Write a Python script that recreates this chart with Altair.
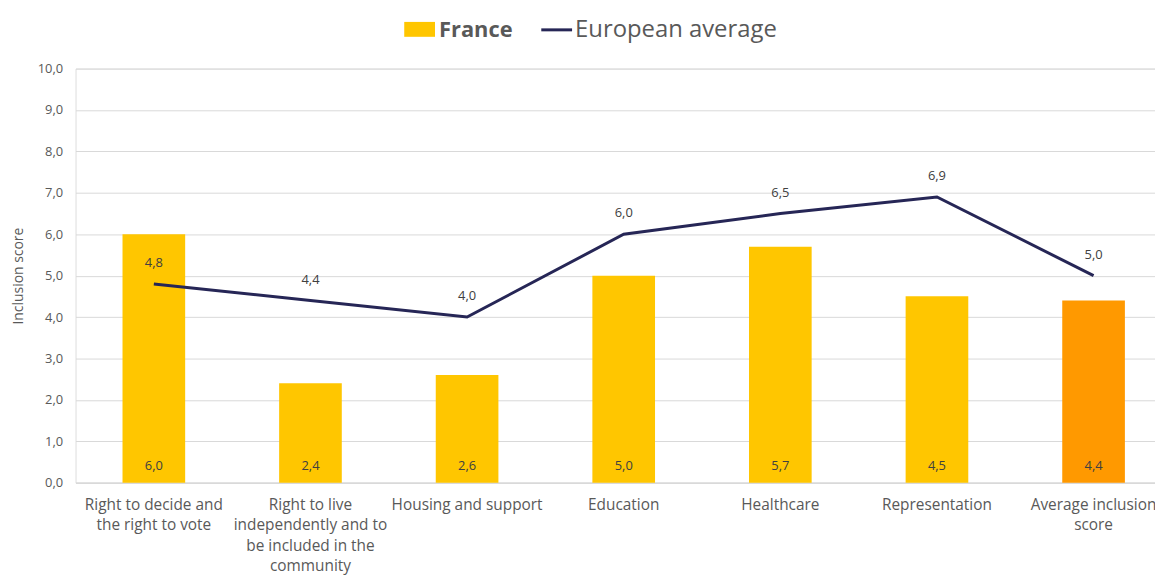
import altair as alt
import pandas as pd

categories = [
    "Right to decide and\nthe right to vote",
    "Right to live\nindependently and to\nbe included in the\ncommunity",
    "Housing and support",
    "Education",
    "Healthcare",
    "Representation",
    "Average inclusion\nscore",
]
france = [6.0, 2.4, 2.6, 5.0, 5.7, 4.5, 4.4]
european_average = [4.8, 4.4, 4.0, 6.0, 6.5, 6.9, 5.0]
bar_kind = ["domain", "domain", "domain", "domain", "domain", "domain", "average"]

df = pd.DataFrame({
    "category": categories,
    "france": france,
    "europe": european_average,
    "kind": bar_kind,
})

FONT = "Open Sans"
GRAY = "#595959"
ORDER = categories

x_scale = alt.Scale(paddingInner=0.6, paddingOuter=0.3, range=[0, 1104])

x_enc = alt.X(
    "category:N",
    sort=ORDER,
    scale=x_scale,
    axis=alt.Axis(
        title=None,
        labelAngle=0,
        labelExpr="split(datum.label, '\\n')",
        labelFont=FONT,
        labelFontSize=15.5,
        labelColor=GRAY,
        labelLineHeight=20.5,
        labelPadding=15,
        labelBaseline="top",
        ticks=False,
        domainColor="#D9D9D9",
        domainWidth=1.5,
        labelLimit=300,
    ),
)

y_scale = alt.Scale(domain=[0, 10], nice=False)

bars = alt.Chart(df).mark_bar().encode(
    x=x_enc,
    y=alt.Y(
        "france:Q",
        scale=y_scale,
        axis=alt.Axis(
            title="Inclusion score",
            titleFont=FONT,
            titleFontSize=14,
            titleFontWeight="normal",
            titleColor=GRAY,
            titlePadding=12,
            values=[0, 1, 2, 3, 4, 5, 6, 7, 8, 9, 10],
            labelExpr="replace(format(datum.value, '.1f'), '.', ',')",
            labelFont=FONT,
            labelFontSize=13,
            labelColor=GRAY,
            labelPadding=13,
            ticks=False,
            domain=False,
            gridColor="#D9D9D9",
            gridWidth=1,
        ),
    ),
    color=alt.Color(
        "kind:N",
        scale=alt.Scale(domain=["domain", "average"], range=["#FFC600", "#FF9900"]),
        legend=None,
    ),
)

bar_labels = alt.Chart(df).transform_calculate(
    lab="replace(format(datum.france, '.1f'), '.', ',')"
).mark_text(font=FONT, fontSize=13, color="#404040", baseline="middle").encode(
    x=alt.X("category:N", sort=ORDER, scale=x_scale),
    y=alt.value(400),
    text="lab:N",
)

line = alt.Chart(df).mark_line(color="#262656", strokeWidth=3).encode(
    x=alt.X("category:N", sort=ORDER, scale=x_scale),
    y=alt.Y("europe:Q", scale=y_scale),
)

line_labels = alt.Chart(df).transform_calculate(
    lab="replace(format(datum.europe, '.1f'), '.', ',')"
).mark_text(font=FONT, fontSize=13, color="#404040", baseline="middle", dy=-21).encode(
    x=alt.X("category:N", sort=ORDER, scale=x_scale),
    y=alt.Y("europe:Q", scale=y_scale),
    text="lab:N",
)

# Legend drawn at top center
leg_df = pd.DataFrame({"k": [0]})
leg_rect = alt.Chart(leg_df).mark_rect(color="#FFC600").encode(
    x=alt.value(331), x2=alt.value(362), y=alt.value(-47), y2=alt.value(-32)
)
leg_france = alt.Chart(leg_df).mark_text(
    text="France", font=FONT, fontSize=22, fontWeight="bold", color=GRAY,
    align="left", baseline="middle"
).encode(x=alt.value(366), y=alt.value(-39))
leg_line = alt.Chart(leg_df).mark_rule(color="#262656", strokeWidth=3).encode(
    x=alt.value(469), x2=alt.value(500), y=alt.value(-39)
)
leg_eu = alt.Chart(leg_df).mark_text(
    text="European average", font=FONT, fontSize=24, color=GRAY,
    align="left", baseline="middle"
).encode(x=alt.value(503), y=alt.value(-39))

chart = alt.layer(
    bars, bar_labels, line, line_labels, leg_rect, leg_france, leg_line, leg_eu
).properties(
    width=1087,
    height=417,
    autosize=alt.AutoSizeParams(type="none"),
    padding={"left": 68, "top": 59, "right": 0, "bottom": 100},
).configure_view(stroke=None).configure(background="white")

chart.save("out.html", embed_options={"renderer": "svg", "actions": False})
